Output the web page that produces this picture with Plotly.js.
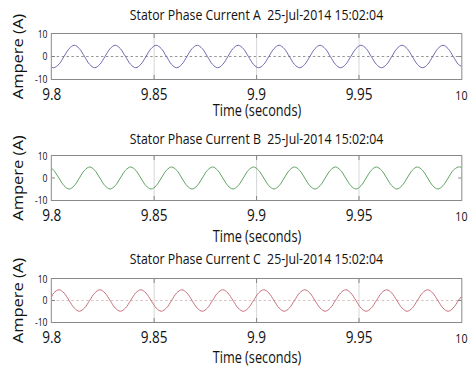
<!DOCTYPE html>
<html>
<head>
<meta charset="utf-8">
<script src="https://cdn.plot.ly/plotly-3.0.1.min.js"></script>
<style>
html,body{margin:0;padding:0;background:#fff;overflow:hidden;width:468px;height:371px;}
#chart{width:570px;height:371px;transform:scaleX(0.82105);transform-origin:0 0;}
</style>
</head>
<body>
<div id="chart"></div>
<script>
// ---- data (peaks, troughs, zero crossings, mid points) ----
var timeSec = [9.8,
  9.801, 9.8035, 9.806, 9.8085, 9.811, 9.8135, 9.816, 9.8185,
  9.821, 9.8235, 9.826, 9.8285, 9.831, 9.8335, 9.836, 9.8385,
  9.841, 9.8435, 9.846, 9.8485, 9.851, 9.8535, 9.856, 9.8585,
  9.861, 9.8635, 9.866, 9.8685, 9.871, 9.8735, 9.876, 9.8785,
  9.881, 9.8835, 9.886, 9.8885, 9.891, 9.8935, 9.896, 9.8985,
  9.901, 9.9035, 9.906, 9.9085, 9.911, 9.9135, 9.916, 9.9185,
  9.921, 9.9235, 9.926, 9.9285, 9.931, 9.9335, 9.936, 9.9385,
  9.941, 9.9435, 9.946, 9.9485, 9.951, 9.9535, 9.956, 9.9585,
  9.961, 9.9635, 9.966, 9.9685, 9.971, 9.9735, 9.976, 9.9785,
  9.981, 9.9835, 9.986, 9.9885, 9.991, 9.9935, 9.996, 9.9985,
  10.0];

var currentA = [-4.7,
  -5, -3.5, 0, 3.5, 5, 3.5, 0, -3.5,
  -5, -3.5, 0, 3.5, 5, 3.5, 0, -3.5,
  -5, -3.5, 0, 3.5, 5, 3.5, 0, -3.5,
  -5, -3.5, 0, 3.5, 5, 3.5, 0, -3.5,
  -5, -3.5, 0, 3.5, 5, 3.5, 0, -3.5,
  -5, -3.5, 0, 3.5, 5, 3.5, 0, -3.5,
  -5, -3.5, 0, 3.5, 5, 3.5, 0, -3.5,
  -5, -3.5, 0, 3.5, 5, 3.5, 0, -3.5,
  -5, -3.5, 0, 3.5, 5, 3.5, 0, -3.5,
  -5, -3.5, 0, 3.5, 5, 3.5, 0, -3.5,
  -4.4];

var currentB = [4.4,
  3.5, 0, -3.5, -5, -3.5, 0, 3.5, 5,
  3.5, 0, -3.5, -5, -3.5, 0, 3.5, 5,
  3.5, 0, -3.5, -5, -3.5, 0, 3.5, 5,
  3.5, 0, -3.5, -5, -3.5, 0, 3.5, 5,
  3.5, 0, -3.5, -5, -3.5, 0, 3.5, 5,
  3.5, 0, -3.5, -5, -3.5, 0, 3.5, 5,
  3.5, 0, -3.5, -5, -3.5, 0, 3.5, 5,
  3.5, 0, -3.5, -5, -3.5, 0, 3.5, 5,
  3.5, 0, -3.5, -5, -3.5, 0, 3.5, 5,
  3.5, 0, -3.5, -5, -3.5, 0, 3.5, 5,
  4.9];

var currentC = [1.8,
  3.5, 5, 3.5, 0, -3.5, -5, -3.5, 0,
  3.5, 5, 3.5, 0, -3.5, -5, -3.5, 0,
  3.5, 5, 3.5, 0, -3.5, -5, -3.5, 0,
  3.5, 5, 3.5, 0, -3.5, -5, -3.5, 0,
  3.5, 5, 3.5, 0, -3.5, -5, -3.5, 0,
  3.5, 5, 3.5, 0, -3.5, -5, -3.5, 0,
  3.5, 5, 3.5, 0, -3.5, -5, -3.5, 0,
  3.5, 5, 3.5, 0, -3.5, -5, -3.5, 0,
  3.5, 5, 3.5, 0, -3.5, -5, -3.5, 0,
  3.5, 5, 3.5, 0, -3.5, -5, -3.5, 0,
  1.8];

var tickValsX = [9.8, 9.85, 9.9, 9.95, 10];
var tickLabelsX = ['9.8', '9.85', '9.9', '9.95', '<span style="font-size:13px">10</span>'];
var tickValsY = [-10, 0, 10];
var tickLabelsY = ['-10', '0', '10'];
var panelTitles = ['Stator Phase Current A\u00a0 25-Jul-2014 15:02:04',
                   'Stator Phase Current B\u00a0 25-Jul-2014 15:02:04',
                   'Stator Phase Current C\u00a0 25-Jul-2014 15:02:04'];
var xTitle = 'Time (seconds)';
var yTitle = 'Ampere (A)';

// ---- styling ----
var FONT = '"Open Sans", "Noto Sans", sans-serif';
var colors = ['#5a5aa6', '#4f9a52', '#c0626e'];
var boxColor = '#7d7d7d';
var H = 371;
function py(p) { return 1 - p / H; }

function trace(y, c, xa, ya) {
  return {x: timeSec, y: y, xaxis: xa, yaxis: ya, type: 'scatter', mode: 'lines',
          line: {color: c, width: 1, shape: 'spline', smoothing: 1},
          hoverinfo: 'skip', showlegend: false};
}

function xAxis(anchor) {
  return {
    domain: [0, 1], anchor: anchor, range: [9.8, 10], fixedrange: true,
    tickmode: 'array', tickvals: tickValsX, ticktext: tickLabelsX,
    ticks: 'inside', ticklen: 4, tickcolor: boxColor, mirror: 'ticks',
    showline: true, linecolor: boxColor, linewidth: 1,
    showgrid: true, gridcolor: '#d2d2d2', gridwidth: 1, zeroline: false,
    tickfont: {family: FONT, size: 16.5, color: '#111'},
    ticklabelstandoff: 0
  };
}
function yAxis(dom, anchor, grid, gridColor) {
  return {
    domain: dom, anchor: anchor, range: [-10, 10], fixedrange: true,
    tickmode: 'array', tickvals: tickValsY, ticktext: tickLabelsY,
    ticks: 'inside', ticklen: 4, tickcolor: boxColor, mirror: 'ticks',
    showline: true, linecolor: boxColor, linewidth: 1,
    showgrid: grid, gridcolor: gridColor, griddash: 'dot', gridwidth: 1, zeroline: false,
    tickfont: {family: FONT, size: 10.5, color: '#111'},
    ticklabelstandoff: 2,
    title: {text: yTitle, font: {family: FONT, size: 16.5, color: '#111'}, standoff: 9}
  };
}

var data = [
  trace(currentA, colors[0], 'x', 'y'),
  trace(currentB, colors[1], 'x2', 'y2'),
  trace(currentC, colors[2], 'x3', 'y3')
];

function ann(text, yPix, size) {
  return {text: text, xref: 'paper', yref: 'paper', x: 0.5, y: py(yPix),
          xanchor: 'center', yanchor: 'middle', showarrow: false,
          font: {family: FONT, size: size, color: '#111'}};
}

var layout = {
  width: 570, height: 371,
  margin: {l: 63, r: 8, t: 0, b: 0, pad: 0},
  paper_bgcolor: '#fff', plot_bgcolor: '#fff',
  font: {family: FONT, color: '#111'},
  xaxis: xAxis('y'),
  yaxis: yAxis([py(79), py(34)], 'x', true, '#8a8a8a'),
  xaxis2: xAxis('y2'),
  yaxis2: yAxis([py(200), py(156)], 'x2', false, '#cccccc'),
  xaxis3: xAxis('y3'),
  yaxis3: yAxis([py(322), py(279)], 'x3', true, '#d9b9bd'),
  annotations: [
    ann(panelTitles[0], 14, 15), ann(panelTitles[1], 138, 15), ann(panelTitles[2], 258, 15),
    ann(xTitle, 110, 15.5), ann(xTitle, 236, 15.5), ann(xTitle, 357, 15.5)
  ]
};

Plotly.newPlot('chart', data, layout, {displayModeBar: false, staticPlot: true});
</script>
</body>
</html>
